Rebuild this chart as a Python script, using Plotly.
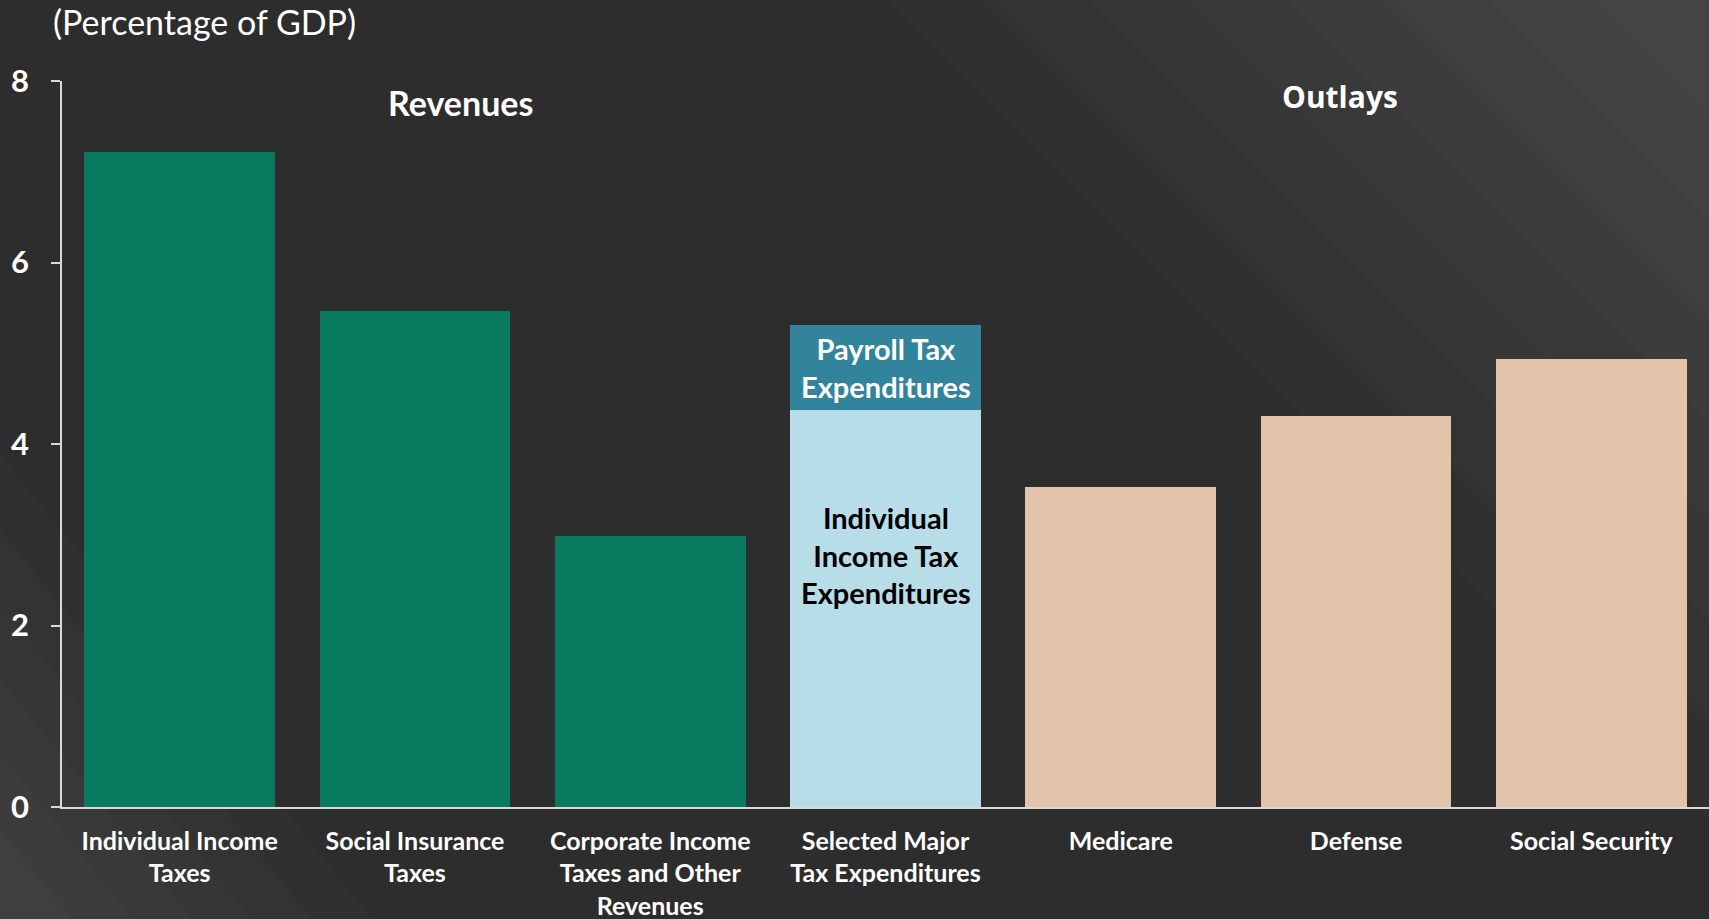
import plotly.graph_objects as go

# ---- data ----
categories = [
    "Individual Income<br>Taxes",
    "Social Insurance<br>Taxes",
    "Corporate Income<br>Taxes and Other<br>Revenues",
    "Selected Major<br>Tax Expenditures",
    "Medicare",
    "Defense",
    "Social Security",
]
revenue_cats = categories[0:3]
revenue_vals = [7.22, 5.47, 2.99]
taxexp_cat = [categories[3]]
indiv_taxexp_vals = [4.37]
payroll_taxexp_vals = [0.94]
outlay_cats = categories[4:7]
outlay_vals = [3.53, 4.31, 4.94]
y_ticks = [0, 2, 4, 6, 8]

# ---- layout geometry (pixels) ----
W, H = 1709, 919
ML, MR, MT, MB = 62, 0, 81, 112
PW, PH = W - ML - MR, H - MT - MB


def px(xp, yp):
    """pixel -> paper coords"""
    return (xp - ML) / PW, (H - MB - yp) / PH


BG = "#2d2d2d"
fig = go.Figure()

fig.add_trace(go.Bar(x=revenue_cats, y=revenue_vals, marker_color="#077a60",
                     marker_line_width=0, name="Revenues"))
fig.add_trace(go.Bar(x=taxexp_cat, y=indiv_taxexp_vals, marker_color="#b7dde8",
                     marker_line_width=0, name="Individual Income Tax Expenditures"))
fig.add_trace(go.Bar(x=taxexp_cat, y=payroll_taxexp_vals, marker_color="#31849b",
                     marker_line_width=0, name="Payroll Tax Expenditures"))
fig.add_trace(go.Bar(x=outlay_cats, y=outlay_vals, marker_color="#e1c4a9",
                     marker_line_width=0, name="Outlays"))

# background gradient corners
shapes = []
for k in range(8):
    L = 120 + k * 100
    x0, y0 = px(W - L, 0)
    x1, y1 = px(W, 0)
    x2, y2 = px(W, L)
    shapes.append(dict(type="path", xref="paper", yref="paper", layer="below",
                       path=f"M {x0} {y0} L {x1} {y1} L {x2} {y2} Z",
                       fillcolor="rgba(255,255,255,0.014)", line_width=0))
for k in range(6):
    L = 90 + k * 75
    x0, y0 = px(0, H - L)
    x1, y1 = px(0, H)
    x2, y2 = px(L * 0.8, H)
    shapes.append(dict(type="path", xref="paper", yref="paper", layer="below",
                       path=f"M {x0} {y0} L {x1} {y1} L {x2} {y2} Z",
                       fillcolor="rgba(255,255,255,0.014)", line_width=0))

annotations = []
tx, ty = px(51, 21)
annotations.append(dict(text="(Percentage of GDP)", xref="paper", yref="paper", x=tx, y=ty,
                        xanchor="left", yanchor="middle", showarrow=False,
                        font=dict(family="Lato", size=34, color="white")))
rx, ry = px(460, 103)
annotations.append(dict(text="<b>Revenues</b>", xref="paper", yref="paper", x=rx, y=ry,
                        xanchor="center", yanchor="middle", showarrow=False,
                        font=dict(family="Lato", size=34, color="white")))
ox, oy = px(1340, 96)
annotations.append(dict(text="<b>Outlays</b>", xref="paper", yref="paper", x=ox, y=oy,
                        xanchor="center", yanchor="middle", showarrow=False,
                        font=dict(family="Open Sans", size=30, color="white")))
annotations.append(dict(text="<b>Payroll Tax<br>Expenditures</b>", x=categories[3],
                        y=indiv_taxexp_vals[0] + payroll_taxexp_vals[0] / 2,
                        xanchor="center", yanchor="middle", showarrow=False,
                        font=dict(family="Lato", size=29, color="white")))
annotations.append(dict(text="<b>Individual<br>Income Tax<br>Expenditures</b>", x=categories[3],
                        y=2.78, xanchor="center", yanchor="middle", showarrow=False,
                        font=dict(family="Lato", size=29, color="black")))

fig.update_layout(
    width=W, height=H,
    margin=dict(l=ML, r=MR, t=MT, b=MB, pad=0),
    paper_bgcolor=BG, plot_bgcolor="rgba(0,0,0,0)",
    barmode="stack", bargap=0.19, showlegend=False,
    shapes=shapes, annotations=annotations,
    xaxis=dict(categoryorder="array", categoryarray=categories, automargin=False,
               showline=True, linecolor="#d9d9d9", linewidth=1.5,
               showgrid=False, ticks="", ticklabelstandoff=11,
               tickfont=dict(family="Lato", size=25, color="white", weight="bold")),
    yaxis=dict(range=[0, 8], tickvals=y_ticks, showline=True, linecolor="#d9d9d9",
               automargin=False,
               linewidth=1.5, showgrid=False, zeroline=False, ticks="outside",
               ticklen=9, tickwidth=1.5, tickcolor="#d9d9d9", ticklabelstandoff=16,
               tickfont=dict(family="Lato", size=31, color="white", weight="bold")),
)

fig.write_html(
    "out.html",
    config={"displayModeBar": False},
    post_script=(
        "document.body.style.margin='0';"
        "document.body.style.overflow='hidden';"
        "document.documentElement.style.overflow='hidden';"
        "document.body.style.background='#2d2d2d';"
        "window.scrollTo(0,0);"
    ),
)
